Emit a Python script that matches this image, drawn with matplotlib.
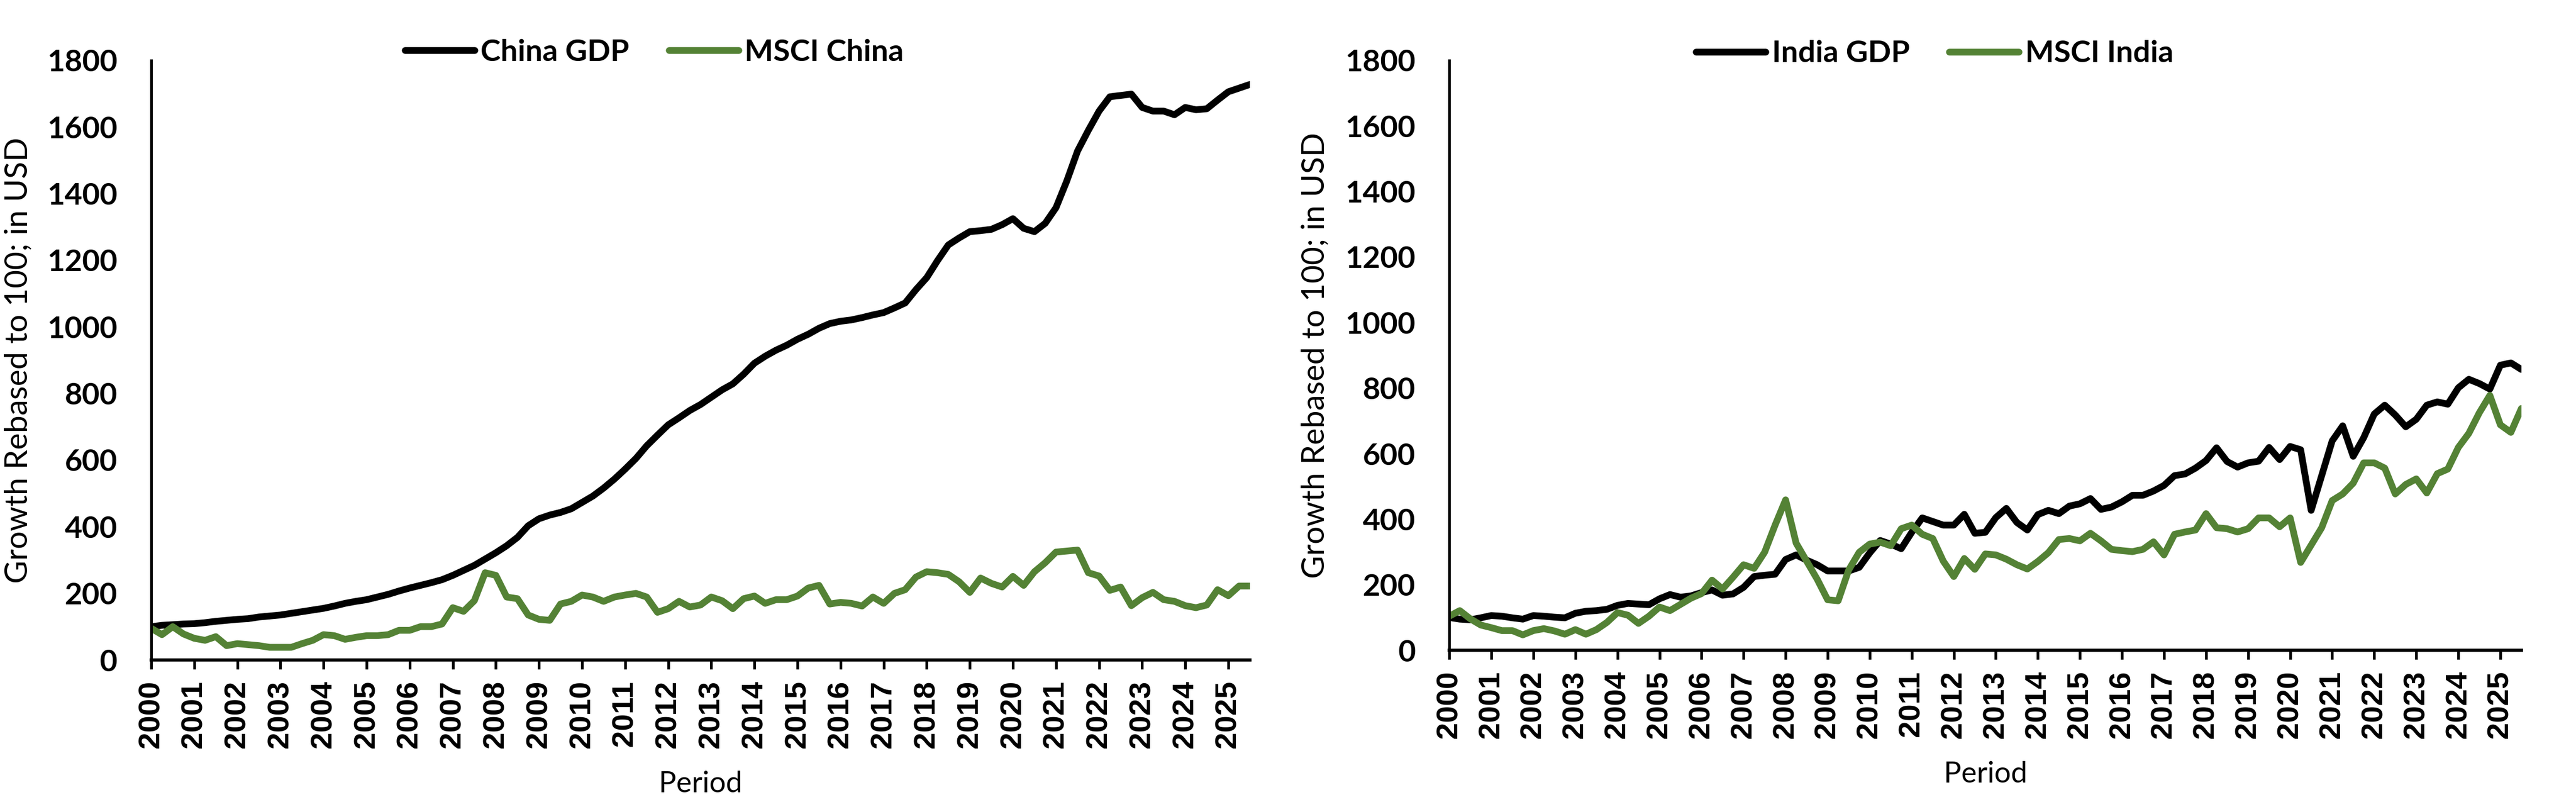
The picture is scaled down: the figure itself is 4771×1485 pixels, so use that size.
import matplotlib
matplotlib.use("Agg")
import matplotlib.pyplot as plt
import numpy as np

# quarterly data, 2000Q1 .. 2025Q3, rebased to 100
years = [str(y) for y in range(2000, 2026)]

china_gdp = [100, 104, 106, 108, 109, 112, 116, 119, 122, 124,
             129, 132, 135, 140, 145, 150, 155, 162, 170, 176,
             181, 189, 197, 207, 216, 224, 232, 241, 254, 269,
             284, 303, 322, 343, 368, 403, 424, 435, 443, 454,
             473, 492, 516, 543, 573, 605, 643, 675, 706, 727,
             749, 767, 789, 811, 829, 858, 891, 912, 930, 945,
             963, 978, 996, 1010, 1017, 1021, 1028, 1036, 1043, 1057,
             1072, 1112, 1148, 1199, 1246, 1267, 1286, 1289, 1293, 1307,
             1325, 1296, 1286, 1311, 1358, 1438, 1528, 1590, 1648, 1691,
             1695, 1699, 1659, 1648, 1648, 1637, 1659, 1652, 1655, 1681,
             1706, 1717, 1728]

msci_china = [95, 76, 100, 78, 65, 59, 70, 43, 49, 46,
              43, 38, 38, 38, 49, 59, 76, 73, 62, 68,
              73, 73, 76, 89, 89, 100, 100, 108, 157, 146,
              178, 262, 254, 189, 184, 135, 122, 119, 168, 176,
              195, 189, 176, 189, 195, 200, 189, 143, 154, 176,
              159, 165, 189, 178, 154, 184, 192, 170, 181, 181,
              192, 216, 224, 168, 173, 170, 162, 189, 170, 200,
              211, 249, 265, 262, 257, 235, 203, 246, 230, 219,
              251, 224, 265, 292, 324, 327, 330, 262, 252, 209,
              219, 163, 187, 203, 181, 176, 163, 157, 165, 211,
              193, 222, 222]

india_gdp = [100, 95, 93, 99, 106, 104, 99, 95, 106, 104,
             101, 99, 113, 119, 121, 125, 137, 143, 141, 139,
             157, 170, 162, 166, 176, 184, 168, 172, 192, 225,
             229, 232, 277, 291, 275, 261, 242, 242, 242, 253,
             297, 335, 324, 310, 360, 404, 393, 382, 382, 415,
             357, 360, 405, 433, 390, 367, 414, 427, 417, 440,
             447, 463, 430, 437, 453, 473, 473, 486, 503, 533,
             538, 556, 579, 618, 576, 559, 572, 577, 619, 582,
             622, 612, 427, 533, 639, 685, 592, 649, 721, 748,
             718, 682, 705, 748, 758, 751, 801, 827, 814, 797,
             870, 877, 857]

msci_india = [104, 121, 96, 77, 69, 60, 60, 47, 60, 66,
              59, 49, 63, 49, 63, 85, 115, 107, 82, 104,
              132, 121, 140, 159, 173, 214, 187, 223, 261, 250,
              299, 382, 459, 327, 272, 217, 154, 151, 245, 299,
              324, 330, 319, 371, 382, 354, 341, 272, 225, 280,
              247, 294, 291, 278, 261, 248, 271, 298, 338, 341,
              334, 357, 334, 308, 304, 301, 308, 331, 291, 354,
              361, 367, 417, 374, 371, 361, 371, 404, 404, 377,
              404, 268, 321, 374, 457, 477, 510, 572, 572, 556,
              477, 506, 523, 480, 539, 553, 619, 662, 725, 778,
              688, 665, 738]

GREEN = "#548235"
FONT = "Lato"

fig = plt.figure(figsize=(4771 / 300, 1485 / 300), dpi=300)

panels = [
    ([0.0587, 0.1771, 0.4265, 0.7475], china_gdp, msci_china,
     ["China GDP", "MSCI China"], (0.254, 0.935), -0.108),
    ([0.5626, 0.1892, 0.4162, 0.7354], india_gdp, msci_india,
     ["India GDP", "MSCI India"], (0.751, 0.933), -0.112),
]

for rect, gdp, msci, names, leg_pos, ylab_x in panels:
    ax = fig.add_axes(rect)
    ax.plot(np.arange(len(gdp)), gdp, color="black", lw=3.0,
            solid_capstyle="round", solid_joinstyle="round", label=names[0])
    ax.plot(np.arange(len(msci)), msci, color=GREEN, lw=3.0,
            solid_capstyle="round", solid_joinstyle="round", label=names[1])

    ax.set_xlim(0, len(gdp) - 1)
    ax.set_ylim(0, 1800)
    ax.set_yticks(range(0, 1801, 200))
    ax.set_xticks(range(0, 4 * len(years), 4))
    ax.set_xticklabels(years, rotation=90, fontfamily="Liberation Sans",
                       fontweight="bold", fontsize=13.5)
    for lab in ax.get_yticklabels():
        lab.set_fontfamily(FONT)
        lab.set_fontweight("bold")
        lab.set_fontsize(13.5)

    for s in ["top", "right"]:
        ax.spines[s].set_visible(False)
    ax.spines["left"].set_linewidth(1.2)
    ax.spines["bottom"].set_linewidth(1.4)
    ax.tick_params(axis="y", length=0, pad=15)
    ax.tick_params(axis="x", direction="out", length=4, width=1.2, pad=5)

    ax.set_xlabel("Period", fontfamily=FONT, fontsize=13, labelpad=10)
    ax.set_ylabel("Growth Rebased to 100; in USD", fontfamily=FONT, fontsize=14)
    ax.yaxis.set_label_coords(ylab_x, 0.5)

    ax.legend(loc="center", bbox_to_anchor=leg_pos, bbox_transform=fig.transFigure,
              ncol=2, frameon=False, handlelength=2.3, handletextpad=0.2,
              columnspacing=1.3, prop={"family": FONT, "weight": "bold", "size": 13.5})

fig.savefig("out.png", dpi=300, facecolor="white")
